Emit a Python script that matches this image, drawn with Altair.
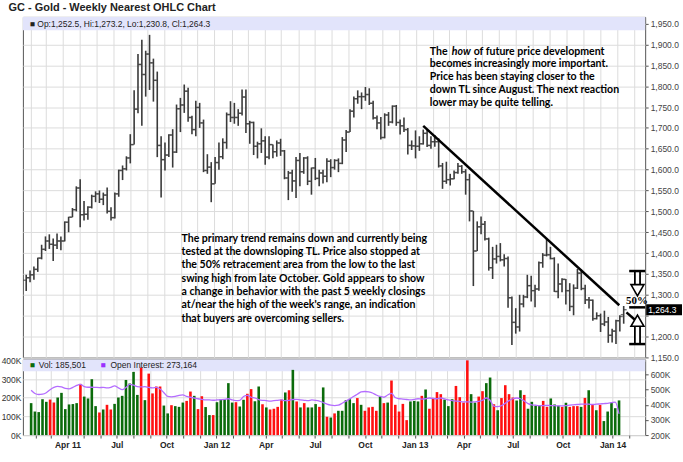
import altair as alt
import pandas as pd

TITLE = "GC - Gold - Weekly Nearest OHLC Chart"
FIRST_WEEK = "2011-01-24"

opens = [1335,1341,1348,1361,1388,1409,1429,1421,1419,1429,1429,1474,1486,1504,1556,1492,1493,1510,1536,1542,
         1529,1539,1500,1485,1542,1598,1602,1628,1660,1745,1852,1828,1877,1856,1814,1658,1624,1635,1683,1642,
         1746,1755,1788,1725,1696,1749,1712,1598,1606,
         1566,1617,1631,1665,1732,1725,1725,1735,1774,1710,1713,1656,1662,1669,1630,1660,1643,1664,1645,1580,
         1592,1573,1622,1595,1628,1572,1604,1579,1592,1584,1620,1605,1622,1615,1671,1690,1740,1770,1775,1775,
         1780,1759,1724,1712,1677,1731,1714,1752,1713,1705,1696,1658,
         1657,1656,1662,1687,1658,1667,1667,1609,1572,1576,1578,1593,1608,1595,1576,1501,1405,1463,1469,1434,
         1365,1386,1392,1384,1387,1293,1234,1223,1278,1295,1322,1310,1314,1377,1395,1396,1387,1308,1326,1337,
         1310,1272,1316,1352,1315,1288,1287,1243,1250,1230,1235,1203,
         1213,1238,1252.5]
highs = [1348,1358,1368,1389,1420,1440,1445,1435,1447,1440,1476,1487,1508,1560,1577,1525,1512,1540,1548,1550,
         1545,1557,1510,1545,1600,1610,1632,1685,1790,1877,1911,1885,1923,1866,1835,1680,1665,1685,1697,1756,
         1772,1804,1796,1729,1765,1760,1720,1637,1618,
         1630,1665,1675,1737,1764,1760,1745,1792,1792,1717,1715,1667,1699,1680,1680,1660,1670,1674,1647,1597,
         1600,1630,1640,1630,1632,1605,1628,1600,1600,1627,1625,1625,1627,1678,1695,1745,1775,1790,1785,1798,
         1795,1765,1730,1726,1735,1738,1754,1755,1720,1725,1700,1670,
         1694,1680,1696,1695,1680,1683,1675,1616,1619,1590,1598,1616,1611,1601,1590,1501,1476,1488,1477,1437,
         1415,1420,1424,1397,1392,1296,1268,1300,1300,1348,1346,1324,1380,1400,1434,1415,1390,1375,1340,1338,
         1328,1325,1362,1361,1324,1295,1289,1258,1255,1262,1247,1219,
         1240,1251,1273.2]
lows = [1309,1330,1336,1355,1385,1405,1410,1381,1410,1407,1428,1450,1486,1500,1462,1478,1480,1507,1522,1520,
        1515,1495,1478,1483,1535,1575,1598,1615,1660,1735,1705,1775,1791,1763,1630,1533,1598,1630,1605,1640,
        1690,1736,1715,1685,1680,1700,1594,1590,1522,
        1566,1600,1625,1650,1714,1710,1705,1730,1688,1662,1635,1627,1640,1612,1625,1627,1631,1633,1577,1527,
        1547,1532,1560,1590,1563,1540,1575,1560,1567,1570,1582,1600,1594,1613,1642,1690,1725,1758,1745,1765,
        1755,1720,1697,1672,1675,1705,1711,1705,1684,1690,1636,1647,
        1627,1645,1660,1654,1650,1655,1605,1554,1566,1562,1577,1590,1590,1540,1476,1321,1405,1445,1430,1358,
        1338,1375,1380,1368,1269,1180,1207,1212,1270,1292,1284,1270,1310,1365,1392,1385,1307,1292,1306,1277,
        1261,1251,1314,1311,1278,1267,1238,1241,1211,1225,1185,1186,
        1182,1212,1230.8]
closes = [1341,1348,1361,1388,1409,1429,1421,1419,1429,1429,1474,1486,1504,1556,1492,1493,1510,1536,1542,1529,
          1539,1500,1485,1542,1598,1602,1628,1660,1745,1852,1828,1877,1856,1814,1658,1624,1635,1683,1642,1746,
          1755,1788,1725,1696,1749,1712,1598,1606,1566,
          1617,1631,1665,1732,1725,1725,1735,1774,1710,1713,1656,1662,1669,1630,1660,1643,1664,1645,1580,1592,
          1573,1622,1595,1628,1572,1604,1579,1592,1584,1620,1605,1622,1615,1671,1690,1740,1770,1775,1775,1780,
          1759,1724,1712,1677,1731,1714,1752,1713,1705,1696,1658,1657,
          1656,1662,1687,1658,1667,1667,1609,1572,1576,1578,1593,1608,1595,1576,1501,1405,1463,1469,1434,1365,
          1386,1392,1384,1387,1293,1234,1223,1278,1295,1322,1310,1314,1377,1395,1396,1387,1308,1326,1337,1310,
          1272,1316,1352,1315,1288,1287,1243,1250,1230,1235,1203,1213,
          1238,1248,1264.3]

# weekly volume (thousands) and bar colour
vol_k = [171,126,123,192,178,190,174,201,226,139,
         164,166,171,274,206,196,299,155,121,137,
         162,137,167,201,210,295,276,338,215,361,
         187,329,223,260,260,158,116,160,155,151,
         174,183,233,210,139,208,150,107,107,176,
         192,192,278,174,176,153,189,221,246,181,
         260,165,148,137,141,151,190,228,240,349,
         180,148,171,148,148,166,151,255,98,
         94,116,130,130,187,192,171,198,162,130,
         148,151,130,206,171,174,292,162,126,167,
         80,180,183,180,210,244,141,199,230,219,
         190,155,192,263,203,174,400,219,174,206,
         235,278,308,165,133,198,267,219,201,185,
         240,215,141,178,157,157,183,151,196,164,
         157,151,173,151,155,155,151,199,240,165,
         133,162,75,126,174,144,185.5]
vol_dir = list("GGGGGRRGGG" "GGGRGGGGRG" "RRGGGGGGGR" "GRRRRGGRGG" "GRRGRRGGRG"
               "GGGGRGGRRG" "GRGRRRRGRG" "RGRGGGRGR"
               "GRGGGGGRGR" "RRRGRGRRRR" "RGGGRGRRRR" "GGGRRRRGGR" "RGGRGRRRRG"
               "GRGGGGRRGG" "GRGRRRGRGR" "GRGGGGG")
oi_k = [496,475,468,470,480,500,515,522,518,508,505,515,528,535,520,516,516,515,514,515,
        512,516,525,512,500,515,535,530,520,518,520,515,512,515,505,480,455,452,455,462,
        465,455,450,445,440,436,432,432,430,432,434,436,440,432,428,430,455,462,450,445,
        435,430,428,425,428,430,432,428,430,435,436,432,430,428,432,430,425,415,405,398,
        395,398,410,424,440,455,470,485,488,485,478,465,455,450,465,475,448,440,438,435,
        432,436,440,438,440,445,442,440,445,440,432,428,425,422,420,420,418,420,422,430,
        445,430,392,388,395,410,428,440,445,440,425,408,400,397,395,395,396,395,394,393,
        393,395,398,400,402,405,405,404,402,404,406,408,410,414,418,340]
vol_label = "185,501"
oi_label = "273,164"

# annotations (date, price)
trend_pts = [("2013-01-14", 1705, "a"), ("2014-01-05", 1275, "a"),
             ("2014-01-18", 1258, "b"), ("2014-02-06", 1236, "b")]
swing_high, swing_low, half_level = 1357, 1182, 1270
note1_first = ["The", "how", "of future price development"]
note1_rest = ["becomes increasingly more important.", "Price has been staying closer to the",
              "down TL since August.  The next reaction", "lower may be quite telling."]
note2 = ["The primary trend remains down and currently being",
         "tested at the downsloping TL.  Price also stopped at",
         "the 50% retracement area from the low to the last",
         "swing high from late October.  Gold appears to show",
         "a change in behavior with the past 5 weekly closings",
         "at/near the high of the week's range, an indication",
         "that buyers are overcoming sellers."]

PW, PH, VH = 625, 342, 76
FONT = "Liberation Sans"
NOTE_FONT = "Lato"
NOTE_SIZE = 10.6
BAR = "#3a3a3a"
BAND = "#e2e4fb"

n = len(closes)
dates = pd.date_range(FIRST_WEEK, periods=n, freq="7D")
ohlc = pd.DataFrame({"date": dates, "open": opens[:n], "high": highs[:n], "low": lows[:n], "close": closes})
vol = pd.DataFrame({"date": dates, "vol": [v * 1000 for v in vol_k[:n]],
                    "oi": [v * 1000 for v in oi_k[:n]], "dir": vol_dir[:n]})

x0 = alt.DateTime(year=2011, month=1, date=18)
x1 = alt.DateTime(year=2014, month=2, date=21)
x_scale = alt.Scale(domain=[x0, x1])
months = [alt.DateTime(year=2011 + (m - 1) // 12, month=(m - 1) % 12 + 1, date=1) for m in range(2, 39)]
x_hidden = alt.Axis(values=months, labels=False, ticks=False, domain=False, title=None, grid=True,
                    minExtent=0, maxExtent=0, offset=0)
label_expr = ("month(datum.value) % 3 == 0 ? ((month(datum.value) == 0 || (year(datum.value) == 2011 && "
              "month(datum.value) == 3)) ? timeFormat(datum.value, '%b %y') : timeFormat(datum.value, '%b')) : ''")
x_shown = alt.Axis(values=months, labelExpr=label_expr, title=None, grid=True, domain=False, tickSize=3,
                   labelFontWeight="bold", labelFontSize=8.5, labelColor="#222", labelPadding=2,
                   labelOverlap=False, labelFlush=False)

last_close = closes[-1]
py = alt.Scale(domain=[1150, 1966], nice=False, zero=False)
p_axis = alt.Axis(orient="right", values=list(range(1150, 1951, 50)), title=None,
                  labelExpr=f"abs(datum.value - {last_close}) < 20 ? '' : format(datum.value, ',.1f')",
                  labelFontSize=8.5, labelColor="#444", tickSize=3, labelPadding=2, domain=False,
                  labelOverlap=False, labelSeparation=0, grid=True)


def X(field="date:T", axis=x_hidden):
    return alt.X(field, scale=x_scale, axis=axis)


def PY(field, axis=p_axis):
    return alt.Y(field, scale=py, axis=axis)


base = alt.Chart(ohlc)
hl = base.mark_rule(color=BAR, strokeWidth=1.6).encode(x=X(), y=PY("low:Q"), y2="high:Q")
op = base.mark_tick(color=BAR, orient="horizontal", size=3, thickness=1.4, xOffset=-1.5).encode(
    x=X(), y=PY("open:Q"))
cl = base.mark_tick(color=BAR, orient="horizontal", size=3, thickness=1.4, xOffset=1.5).encode(
    x=X(), y=PY("close:Q"))

band = alt.Chart(pd.DataFrame({"y": [1934], "y2": [1966]})).mark_rect(color=BAND).encode(
    x=alt.value(0), x2=alt.value(PW), y=PY("y:Q"), y2="y2:Q")
head_txt = (f"\u25A0 Op:{opens[-1]:,.1f}, Hi:{highs[-1]:,.1f}, Lo:{lows[-1]:,.1f}, Cl:{closes[-1]:,.1f}")
head = alt.Chart(pd.DataFrame({"t": [head_txt], "y": [1950]})).mark_text(
    align="left", baseline="middle", font=FONT, fontSize=8.5, color="#222", dx=7).encode(
    x=alt.value(0), y=PY("y:Q"), text="t:N")

tl = alt.Chart(pd.DataFrame(trend_pts, columns=["date", "price", "seg"])).mark_line(
    color="black", strokeWidth=2.5).encode(x=X("date:T"), y=PY("price:Q"), detail="seg:N")

ax_date = "2014-02-07"
brk = pd.DataFrame({"a": ["2014-01-23"] * 3, "b": ["2014-02-21"] * 3,
                    "y": [swing_high, half_level, swing_low]})
brackets = alt.Chart(brk).mark_rule(color="black", strokeWidth=2.5).encode(
    x=X("a:T"), x2="b:T", y=PY("y:Q"))
shafts = pd.DataFrame({"d": [ax_date] * 2, "y": [swing_high, 1225], "y2": [1322, swing_low]})
shaft_o = alt.Chart(shafts).mark_rule(color="black", strokeWidth=7).encode(
    x=X("d:T"), y=PY("y:Q"), y2="y2:Q")
shaft_i = alt.Chart(shafts).mark_rule(color="white", strokeWidth=3.4).encode(
    x=X("d:T"), y=PY("y:Q"), y2="y2:Q")
heads = pd.DataFrame({"d": [ax_date] * 2, "y": [1311, 1238], "s": ["triangle-down", "triangle-up"]})
head_marks = alt.Chart(heads).mark_point(filled=True, fill="white", stroke="black", strokeWidth=1.6,
                                         size=170, opacity=1).encode(
    x=X("d:T"), y=PY("y:Q"), shape=alt.Shape("s:N", scale=None, legend=None))
pct = alt.Chart(pd.DataFrame({"d": ["2014-02-06"], "y": [half_level + 14], "t": ["50%"]})).mark_text(
    font="Liberation Serif", fontSize=11, fontWeight="bold", color="black", baseline="middle").encode(
    x=X("d:T"), y=PY("y:Q"), text="t:N")

n1_date = "2013-01-26"
n1 = pd.DataFrame({"d": [n1_date], "y": [1883]})
n1a = alt.Chart(n1).mark_text(align="left", baseline="middle", font=NOTE_FONT, fontWeight="bold",
                              fontSize=NOTE_SIZE, color="black", text=note1_first[0]).encode(
    x=X("d:T"), y=PY("y:Q"))
n1b = alt.Chart(n1).mark_text(align="left", baseline="middle", font=NOTE_FONT, fontWeight="bold",
                              fontStyle="italic", fontSize=NOTE_SIZE, color="black", dx=22, text=note1_first[1]).encode(
    x=X("d:T"), y=PY("y:Q"))
n1c = alt.Chart(n1).mark_text(align="left", baseline="middle", font=NOTE_FONT, fontWeight="bold",
                              fontSize=NOTE_SIZE, color="black", dx=44, text=note1_first[2]).encode(
    x=X("d:T"), y=PY("y:Q"))
n1r = alt.Chart(pd.DataFrame({"d": [n1_date], "y": [1883 - 31.7], "t": ["\n".join(note1_rest)]})).mark_text(
    align="left", baseline="top", font=NOTE_FONT, fontWeight="bold", fontSize=NOTE_SIZE, color="black",
    lineBreak="\n", lineHeight=13.3, dy=-6).encode(x=X("d:T"), y=PY("y:Q"), text="t:N")
n2 = alt.Chart(pd.DataFrame({"d": ["2011-11-02"], "y": [1432], "t": ["\n".join(note2)]})).mark_text(
    align="left", baseline="top", font=NOTE_FONT, fontWeight="bold", fontSize=NOTE_SIZE, color="black",
    lineBreak="\n", lineHeight=13.4, dy=-6).encode(x=X("d:T"), y=PY("y:Q"), text="t:N")

lp = alt.Chart(pd.DataFrame({"c": [last_close], "t": [f"{last_close:,.1f}"]}))
lp_box = lp.mark_rect(color="black", yOffset=-5.5, y2Offset=5.5).encode(
    x=alt.value(PW + 1), x2=alt.value(PW + 37), y=PY("c:Q"), y2="c:Q")
lp_txt = lp.mark_text(color="white", align="left", baseline="middle", font=FONT, fontSize=8.5).encode(
    x=alt.value(PW + 3), y=PY("c:Q"), text="t:N")

price = alt.layer(band, hl, op, cl, head, tl, shaft_o, shaft_i, head_marks, brackets, pct,
                  n1a, n1b, n1c, n1r, n2, lp_box, lp_txt).properties(width=PW, height=PH)

# ---- volume panel
vy = alt.Scale(domain=[0, 405000], nice=False)
v_axis = alt.Axis(orient="left", values=[0, 100000, 200000, 300000, 400000],
                  labelExpr="datum.value / 1000 + 'K'", title=None, labelFontSize=8.5, labelColor="#333",
                  tickSize=0, labelPadding=2, domain=False, labelOverlap=False, labelSeparation=0, grid=True)


def VY(field, axis=v_axis):
    return alt.Y(field, scale=vy, axis=axis)


vbars = alt.Chart(vol).mark_bar(size=2.6).encode(
    x=X("date:T", axis=x_shown), y=VY("vol:Q"),
    color=alt.Color("dir:N", scale=alt.Scale(domain=["G", "R"], range=["#0b6b0b", "#ff1010"]), legend=None))
vband = alt.Chart(pd.DataFrame({"y": [341000], "y2": [405000]})).mark_rect(color=BAND).encode(
    x=alt.value(0), x2=alt.value(PW), y=VY("y:Q"), y2="y2:Q")
vh = pd.DataFrame({"y": [373000] * 4, "t": ["\u25A0", f"Vol: {vol_label}", "\u25A0", f"Open Interest: {oi_label}"]})


def vtext(i, dx, color):
    return alt.Chart(vh.iloc[[i]]).mark_text(align="left", baseline="middle", font=FONT, fontSize=8.5,
                                             color=color, dx=dx).encode(
        x=alt.value(0), y=VY("y:Q"), text="t:N")


vleft = alt.layer(vband, vbars, vtext(0, 7, "#0b6b0b"), vtext(1, 16, "#222"),
                  vtext(2, 78, "#9b30ff"), vtext(3, 88, "#222"))
oi_line = alt.Chart(vol).mark_line(color="#b46cff", strokeWidth=1.3, interpolate="monotone").encode(
    x=X("date:T", axis=x_shown),
    y=alt.Y("oi:Q", scale=alt.Scale(domain=[200000, 700000], nice=False),
            axis=alt.Axis(orient="right", values=[200000, 300000, 400000, 500000, 600000],
                          labelExpr="datum.value / 1000 + 'K'", title=None, labelFontSize=8.5,
                          labelColor="#444", tickSize=3, labelPadding=2, domain=False, grid=False,
                          labelOverlap=False, labelSeparation=0)))
volume = alt.layer(vleft, oi_line).resolve_scale(y="independent").properties(width=PW, height=VH)

chart = alt.vconcat(price, volume, spacing=2, bounds="flush").properties(
    title=alt.TitleParams(TITLE, anchor="start", font=FONT, fontSize=11, fontWeight="bold",
                          color="#222", offset=3, dx=8),
    padding={"left": 0, "top": 1, "right": 0, "bottom": 0},
).configure_view(stroke="#555", strokeWidth=1).configure_axis(
    gridColor="#dcdcdc", gridWidth=1, tickColor="#555", labelFont=FONT, labelOverlap=False)

chart.save("out.html", embed_options={"renderer": "svg", "actions": False})
